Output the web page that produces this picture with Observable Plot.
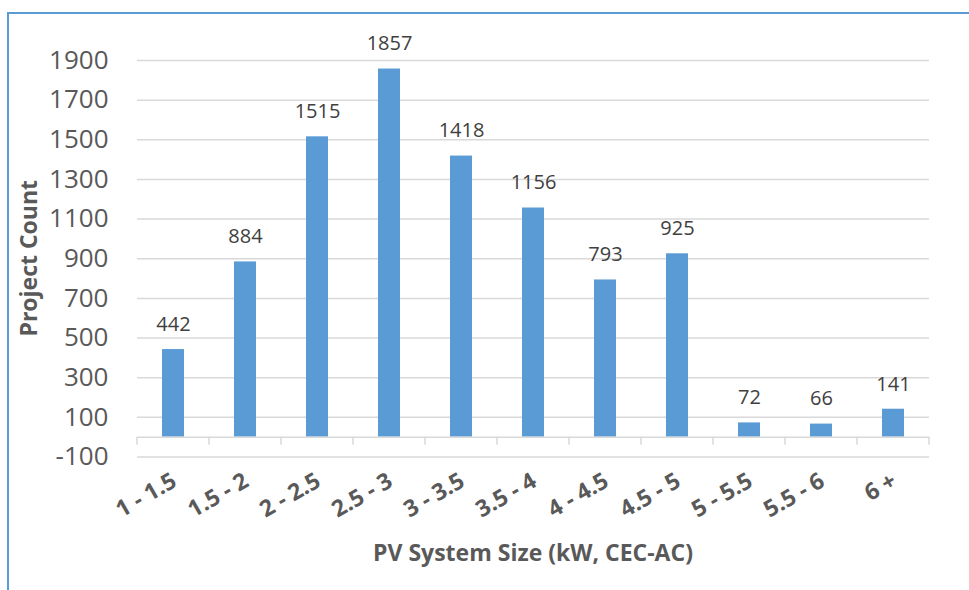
<!DOCTYPE html>
<html>
<head>
<meta charset="utf-8">
<script src="https://cdn.jsdelivr.net/npm/d3@7"></script>
<script src="https://cdn.jsdelivr.net/npm/@observablehq/plot@0.6"></script>
<style>
  html, body { margin: 0; padding: 0; background: #fff; }
  #wrap { position: relative; width: 969px; height: 590px; overflow: hidden; }
  #border { position: absolute; left: 7px; top: 12px; width: 1000px; height: 1000px; border: 2px solid #5b9bd5; box-sizing: border-box; }
  #chart { position: absolute; left: 0; top: 0; }
</style>
</head>
<body>
<div id="wrap">
  <div id="border"></div>
  <div id="chart"></div>
</div>
<script>
const categories = ["1 - 1.5", "1.5 - 2", "2 - 2.5", "2.5 - 3", "3 - 3.5", "3.5 - 4", "4 - 4.5", "4.5 - 5", "5 - 5.5", "5.5 - 6", "6 +"];
const counts = [442, 884, 1515, 1857, 1418, 1156, 793, 925, 72, 66, 141];
const yTicks = [-100, 100, 300, 500, 700, 900, 1100, 1300, 1500, 1700, 1900];
const xTitle = "PV System Size (kW, CEC-AC)";
const yTitle = "Project Count";

const data = categories.map((c, i) => ({cat: c, value: counts[i]}));

const font = "'Open Sans', sans-serif";
const chart = Plot.plot({
  width: 969,
  height: 590,
  marginLeft: 137,
  marginRight: 40,
  marginTop: 60,
  marginBottom: 133.5,
  style: {fontFamily: font, background: "transparent", overflow: "visible"},
  x: {type: "band", domain: categories, paddingInner: 0.694, paddingOuter: 0.347, label: null},
  y: {domain: [-100, 1900], label: null},
  marks: [
    Plot.ruleY(yTicks, {stroke: "#d9d9d9", strokeWidth: 1.5}),
    Plot.barY(data, {x: "cat", y: "value", fill: "#5b9bd5"}),
    Plot.ruleY([0], {stroke: "#d9d9d9", strokeWidth: 1.5}),
    Plot.text(data, {x: "cat", y: "value", text: d => String(d.value), dy: -25, fontSize: 20, fill: "#404040"}),
    Plot.axisY({ticks: yTicks, tickSize: 0, tickPadding: 29, fontSize: 26, fill: "#595959", label: null, tickFormat: d => String(d)}),
    Plot.axisX({tickSize: 0, tickRotate: -30, tickPadding: 22, dx: 1, fontSize: 23, fontWeight: "bold", fill: "#595959", label: null})
  ]
});

// category boundary ticks on the zero line, from the x band scale
const xs = chart.scale("x");
const ys = chart.scale("y");
const step = xs.step;
const bounds = categories.map(c => xs.apply(c) + xs.bandwidth / 2 - step / 2);
bounds.push(xs.apply(categories[categories.length - 1]) + xs.bandwidth / 2 + step / 2);
const svg = d3.select(chart);
const y0 = ys.apply(0);
svg.append("g").attr("stroke", "#d9d9d9").attr("stroke-width", 1.5)
  .selectAll("line").data(bounds).join("line")
  .attr("x1", d => d).attr("x2", d => d)
  .attr("y1", y0).attr("y2", y0 + 8);

// axis titles
svg.append("text")
  .attr("x", (bounds[0] + bounds[bounds.length - 1]) / 2)
  .attr("y", 553).attr("dy", "0.35em")
  .attr("text-anchor", "middle")
  .attr("font-family", font).attr("font-size", 23).attr("font-weight", "bold").attr("fill", "#595959")
  .text(xTitle);
svg.append("text")
  .attr("transform", `translate(29, ${(ys.apply(-100) + ys.apply(1900)) / 2}) rotate(-90)`)
  .attr("dy", "0.35em")
  .attr("text-anchor", "middle")
  .attr("font-family", font).attr("font-size", 23).attr("font-weight", "bold").attr("fill", "#595959")
  .text(yTitle);

document.getElementById("chart").appendChild(chart);
</script>
</body>
</html>
